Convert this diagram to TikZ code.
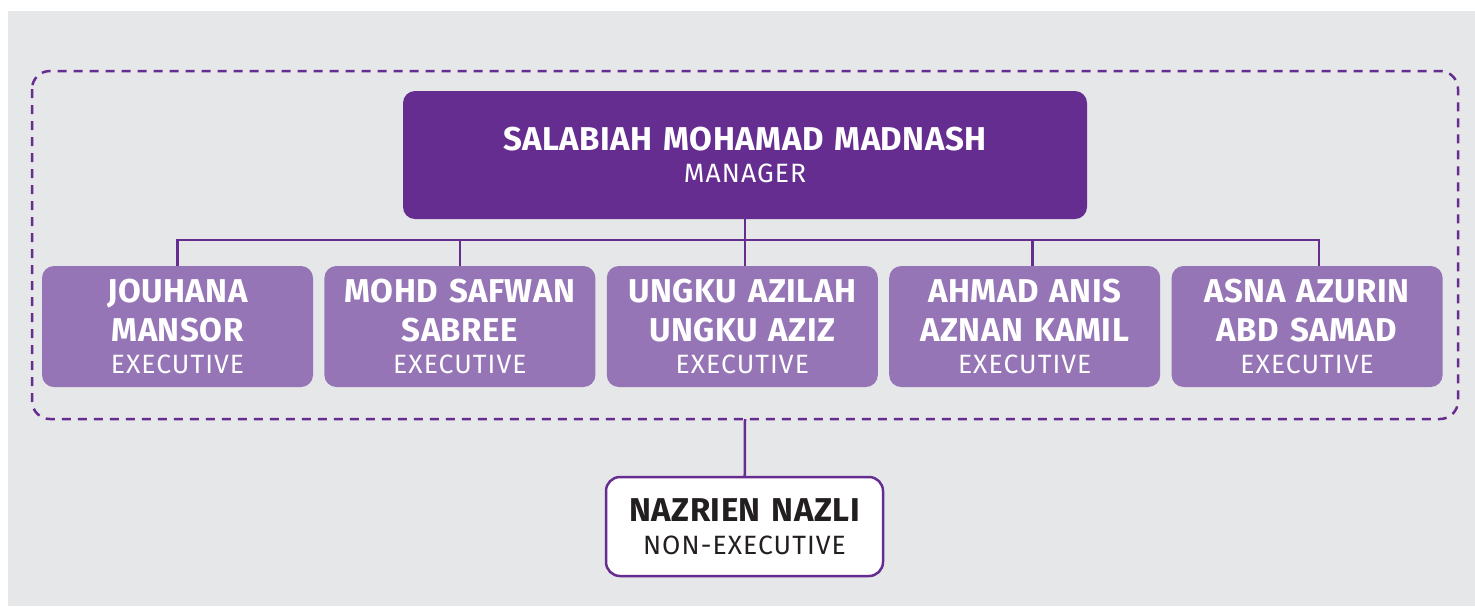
\documentclass[tikz,border=0pt]{standalone}
\usepackage{fontspec}
\setmainfont{Fira Sans}
\usetikzlibrary{positioning}
\definecolor{deeppurple}{RGB}{102,45,145}
\definecolor{softpurple}{RGB}{149,117,182}
\definecolor{panelgray}{RGB}{230,231,232}
\definecolor{inkblack}{RGB}{35,31,32}
\newcommand{\rolefont}{\mdseries\fontsize{26.5}{33}\selectfont\addfontfeature{LetterSpace=4}}

\begin{document}
\begin{tikzpicture}[x=1pt, y=-1pt,
				namefont/.style={font=\fontsize{33}{38}\selectfont\bfseries\addfontfeature{LetterSpace=1.5}},
				headbox/.style={rectangle, rounded corners=12pt, fill=deeppurple, text=white, minimum width=684pt, minimum height=128pt, text width=660pt, align=center, namefont},
				staffbox/.style={rectangle, rounded corners=12pt, fill=softpurple, text=white, minimum width=271pt, minimum height=121pt, text width=265pt, align=center, inner sep=0pt, namefont},
				outbox/.style={rectangle, rounded corners=14pt, draw=deeppurple, line width=2.5pt, fill=white, text=inkblack, minimum width=277pt, minimum height=99pt, text width=260pt, align=center, namefont},
				link/.style={deeppurple, line width=2.5pt},
				group/.style={deeppurple, line width=2.5pt, dash pattern=on 9pt off 7pt, rounded corners=18pt}]
	% canvas
	\useasboundingbox (0,0) rectangle (1475,606);
	\fill[panelgray] (8,11) rectangle (1475,606);
	\draw[group] (32,71) rectangle (1458,419);

	\node[headbox] (mgr) at (745,155) {SALABIAH MOHAMAD MADNASH\\[-6pt]\rolefont MANAGER};

	\node[staffbox] (e1) at (177.5,326.5) {JOUHANA\\[1pt]MANSOR\\[-6pt]\rolefont EXECUTIVE};
	\node[staffbox, right=11pt of e1] (e2) {MOHD SAFWAN\\[1pt]SABREE\\[-6pt]\rolefont EXECUTIVE};
	\node[staffbox, right=11pt of e2] (e3) {UNGKU AZILAH\\[1pt]UNGKU AZIZ\\[-6pt]\rolefont EXECUTIVE};
	\node[staffbox, right=11pt of e3] (e4) {AHMAD ANIS\\[1pt]AZNAN KAMIL\\[-6pt]\rolefont EXECUTIVE};
	\node[staffbox, right=11pt of e4] (e5) {ASNA AZURIN\\[1pt]ABD SAMAD\\[-6pt]\rolefont EXECUTIVE};

	\node[outbox] (nonexec) at (744.5,526.5) {NAZRIEN NAZLI\\[-5pt]\rolefont NON-EXECUTIVE};

	% connectors
	\coordinate (bus) at (745,240);
	\coordinate (t3) at ([xshift=2.5pt]e3.north);
	\coordinate (t4) at ([xshift=8pt]e4.north);
	\coordinate (t5) at ([xshift=12pt]e5.north);
	\coordinate (groupbottom) at (745,419);
	\draw[link] (mgr.south) -- (mgr.south |- t3);
	\draw[link] (e1.north) -- (e1.north |- bus) -- (t5 |- bus) -- (t5);
	\draw[link] (e2.north) -- (e2.north |- bus);
	\draw[link] (t4) -- (t4 |- bus);
	\draw[link] (groupbottom) -- (nonexec);
\end{tikzpicture}
\end{document}
